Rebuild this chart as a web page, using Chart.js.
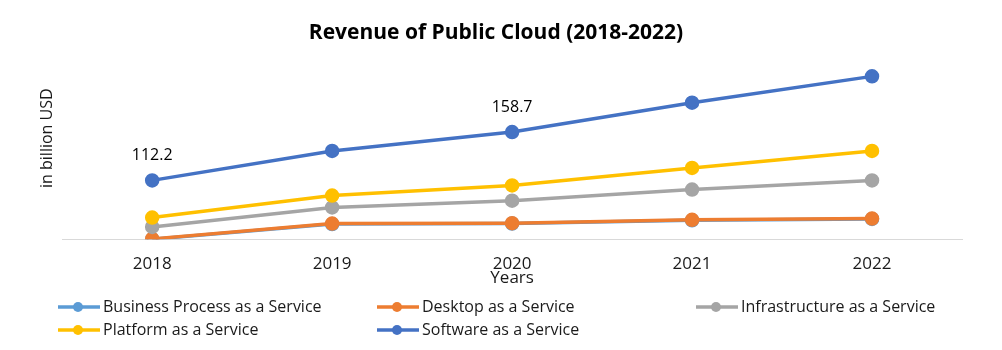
<!DOCTYPE html>
<html>
<head>
<meta charset="utf-8">
<script src="https://cdn.jsdelivr.net/npm/chart.js@4/dist/chart.umd.min.js"></script>
<style>
  html, body { margin: 0; padding: 0; background: #fff; }
  #wrap { width: 1002px; height: 350px; }
</style>
</head>
<body>
<div id="wrap"><canvas id="chart"></canvas></div>
<script>
// data
const years = ['2018', '2019', '2020', '2021', '2022'];
const businessProcess = [55.6, 70.2, 70.6, 73.8, 75.1];
const desktop = [55.9, 70.6, 71.0, 74.2, 75.5];
const infrastructure = [67.4, 86.2, 92.7, 103.4, 112.2];
const platform = [76.4, 97.6, 107.3, 124.2, 140.5];
const software = [112.2, 140.5, 158.7, 187.0, 212.3];
const labelledPoints = [0, 2]; // software points that carry a value label

const font = "'Open Sans', 'Noto Sans', sans-serif";

function series(label, data, color, order) {
  return {
    label, data, order,
    borderColor: color,
    backgroundColor: color,
    borderWidth: 3.5,
    pointRadius: 5.5,
    pointHoverRadius: 5.5,
    pointBackgroundColor: color,
    pointBorderColor: color,
    tension: 0
  };
}

// value labels on the software line
const valueLabels = {
  id: 'valueLabels',
  afterDatasetsDraw(chart) {
    const idx = chart.data.datasets.findIndex(d => d.label === 'Software as a Service');
    const meta = chart.getDatasetMeta(idx);
    const ctx = chart.ctx;
    ctx.save();
    ctx.font = '16px ' + font;
    ctx.fillStyle = '#000';
    ctx.textAlign = 'center';
    ctx.textBaseline = 'middle';
    labelledPoints.forEach(i => {
      const p = meta.data[i];
      ctx.fillText(chart.data.datasets[idx].data[i].toFixed(1), p.x, p.y - 25);
    });
    ctx.restore();
  }
};

// grid-style legend below the axis, like the office chart
const gridLegend = {
  id: 'gridLegend',
  afterDraw(chart) {
    const ctx = chart.ctx;
    const colX = [58, 377, 696];
    const rowY = [307, 330];
    ctx.save();
    ctx.font = '16px ' + font;
    ctx.textBaseline = 'middle';
    chart.data.datasets.forEach((ds, i) => {
      const x = colX[i % 3];
      const y = rowY[Math.floor(i / 3)];
      ctx.strokeStyle = ds.borderColor;
      ctx.lineWidth = 3.5;
      ctx.beginPath();
      ctx.moveTo(x, y);
      ctx.lineTo(x + 42, y);
      ctx.stroke();
      ctx.fillStyle = ds.borderColor;
      ctx.beginPath();
      ctx.arc(x + 20, y, 5, 0, Math.PI * 2);
      ctx.fill();
      ctx.fillStyle = '#1a1a1a';
      ctx.fillText(ds.label, x + 45, y);
    });
    ctx.restore();
  }
};

new Chart(document.getElementById('chart'), {
  type: 'line',
  data: {
    labels: years,
    datasets: [
      series('Business Process as a Service', businessProcess, '#5B9BD5', 5),
      series('Desktop as a Service', desktop, '#ED7D31', 4),
      series('Infrastructure as a Service', infrastructure, '#A5A5A5', 3),
      series('Platform as a Service', platform, '#FFC000', 2),
      series('Software as a Service', software, '#4472C4', 1)
    ]
  },
  options: {
    responsive: true,
    maintainAspectRatio: false,
    animation: false,
    layout: { padding: { left: 30, right: 40, top: 0, bottom: 62 } },
    plugins: {
      legend: { display: false },
      tooltip: { enabled: false },
      title: {
        display: true,
        text: 'Revenue of Public Cloud (2018-2022)',
        color: '#000',
        font: { family: font, size: 21, weight: 'bold' },
        padding: { top: 20, bottom: -8 }
      }
    },
    scales: {
      x: {
        offset: true,
        grid: { display: false, drawTicks: false },
        border: { display: true, color: '#D9D9D9', width: 1 },
        ticks: { color: '#1a1a1a', font: { family: font, size: 17 }, padding: 15 },
        title: {
          display: true,
          text: 'Years',
          color: '#1a1a1a',
          font: { family: font, size: 17 },
          padding: { top: -22, bottom: 0 }
        }
      },
      y: {
        min: 55.6,
        max: 250,
        grid: { display: false, drawTicks: false },
        border: { display: false },
        ticks: { display: false },
        title: {
          display: true,
          text: 'in billion USD',
          color: '#1a1a1a',
          font: { family: font, size: 16 },
          padding: { top: 8, bottom: 5 }
        }
      }
    }
  },
  plugins: [valueLabels, gridLegend]
});
</script>
</body>
</html>
